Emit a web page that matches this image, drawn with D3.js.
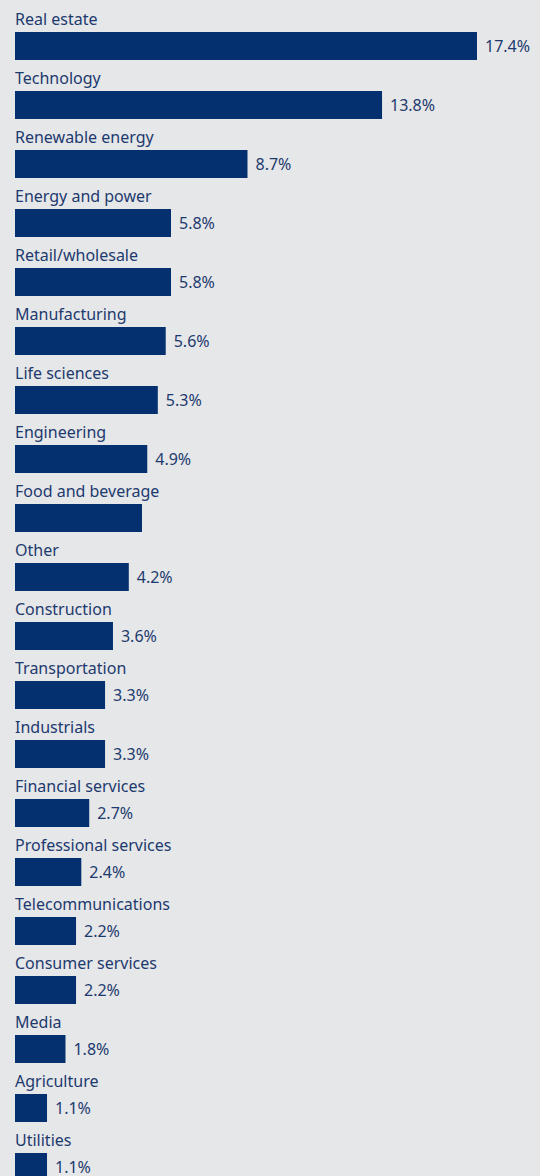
<!DOCTYPE html>
<html>
<head>
<meta charset="utf-8">
<script src="https://cdn.jsdelivr.net/npm/d3@7"></script>
<style>
  html, body { margin: 0; padding: 0; background: #e6e7e9; }
  svg { display: block; }
</style>
</head>
<body>
<div id="chart"></div>
<script>
const categories = [
  "Real estate", "Technology", "Renewable energy", "Energy and power",
  "Retail/wholesale", "Manufacturing", "Life sciences", "Engineering",
  "Food and beverage", "Other", "Construction", "Transportation",
  "Industrials", "Financial services", "Professional services",
  "Telecommunications", "Consumer services", "Media", "Agriculture", "Utilities"
];
const values = [17.4, 13.8, 8.7, 5.8, 5.8, 5.6, 5.3, 4.9, 4.7, 4.2, 3.6, 3.3, 3.3, 2.7, 2.4, 2.2, 2.2, 1.8, 1.1, 1.1];
const valueLabels = ["17.4%", "13.8%", "8.7%", "5.8%", "5.8%", "5.6%", "5.3%", "4.9%", null, "4.2%", "3.6%", "3.3%", "3.3%", "2.7%", "2.4%", "2.2%", "2.2%", "1.8%", "1.1%", "1.1%"];

const W = 540, H = 1176;
const left = 15;
const barH = 28;
const barOffset = 32;

const svg = d3.select("#chart").append("svg")
  .attr("width", W).attr("height", H);

svg.append("rect").attr("width", W).attr("height", H).attr("fill", "#e6e7e9");

const x = d3.scaleLinear().domain([0, 17.4]).range([left + 3, 477]);
const y = d3.scaleBand().domain(categories).range([0, categories.length * 59]).padding(0);

const data = categories.map((c, i) => ({ c, v: values[i], label: valueLabels[i] }));

const g = svg.append("g").selectAll("g").data(data).join("g")
  .attr("transform", d => `translate(0,${y(d.c)})`);

g.append("text")
  .attr("x", left)
  .attr("y", barOffset - 7)
  .attr("fill", "#1d3a6e")
  .style("font-family", "'Noto Sans', 'Open Sans', sans-serif")
  .style("font-size", "16px")
  .text(d => d.c);

g.append("rect")
  .attr("x", left)
  .attr("y", barOffset)
  .attr("width", d => x(d.v) - left)
  .attr("height", barH)
  .attr("fill", "#05306f");

g.filter(d => d.label)
  .append("text")
  .attr("x", d => x(d.v) + 8)
  .attr("y", barOffset + barH / 2 + 6)
  .attr("fill", "#1d3a6e")
  .style("font-family", "'Noto Sans', 'Open Sans', sans-serif")
  .style("font-size", "16px")
  .text(d => d.label);
</script>
</body>
</html>
